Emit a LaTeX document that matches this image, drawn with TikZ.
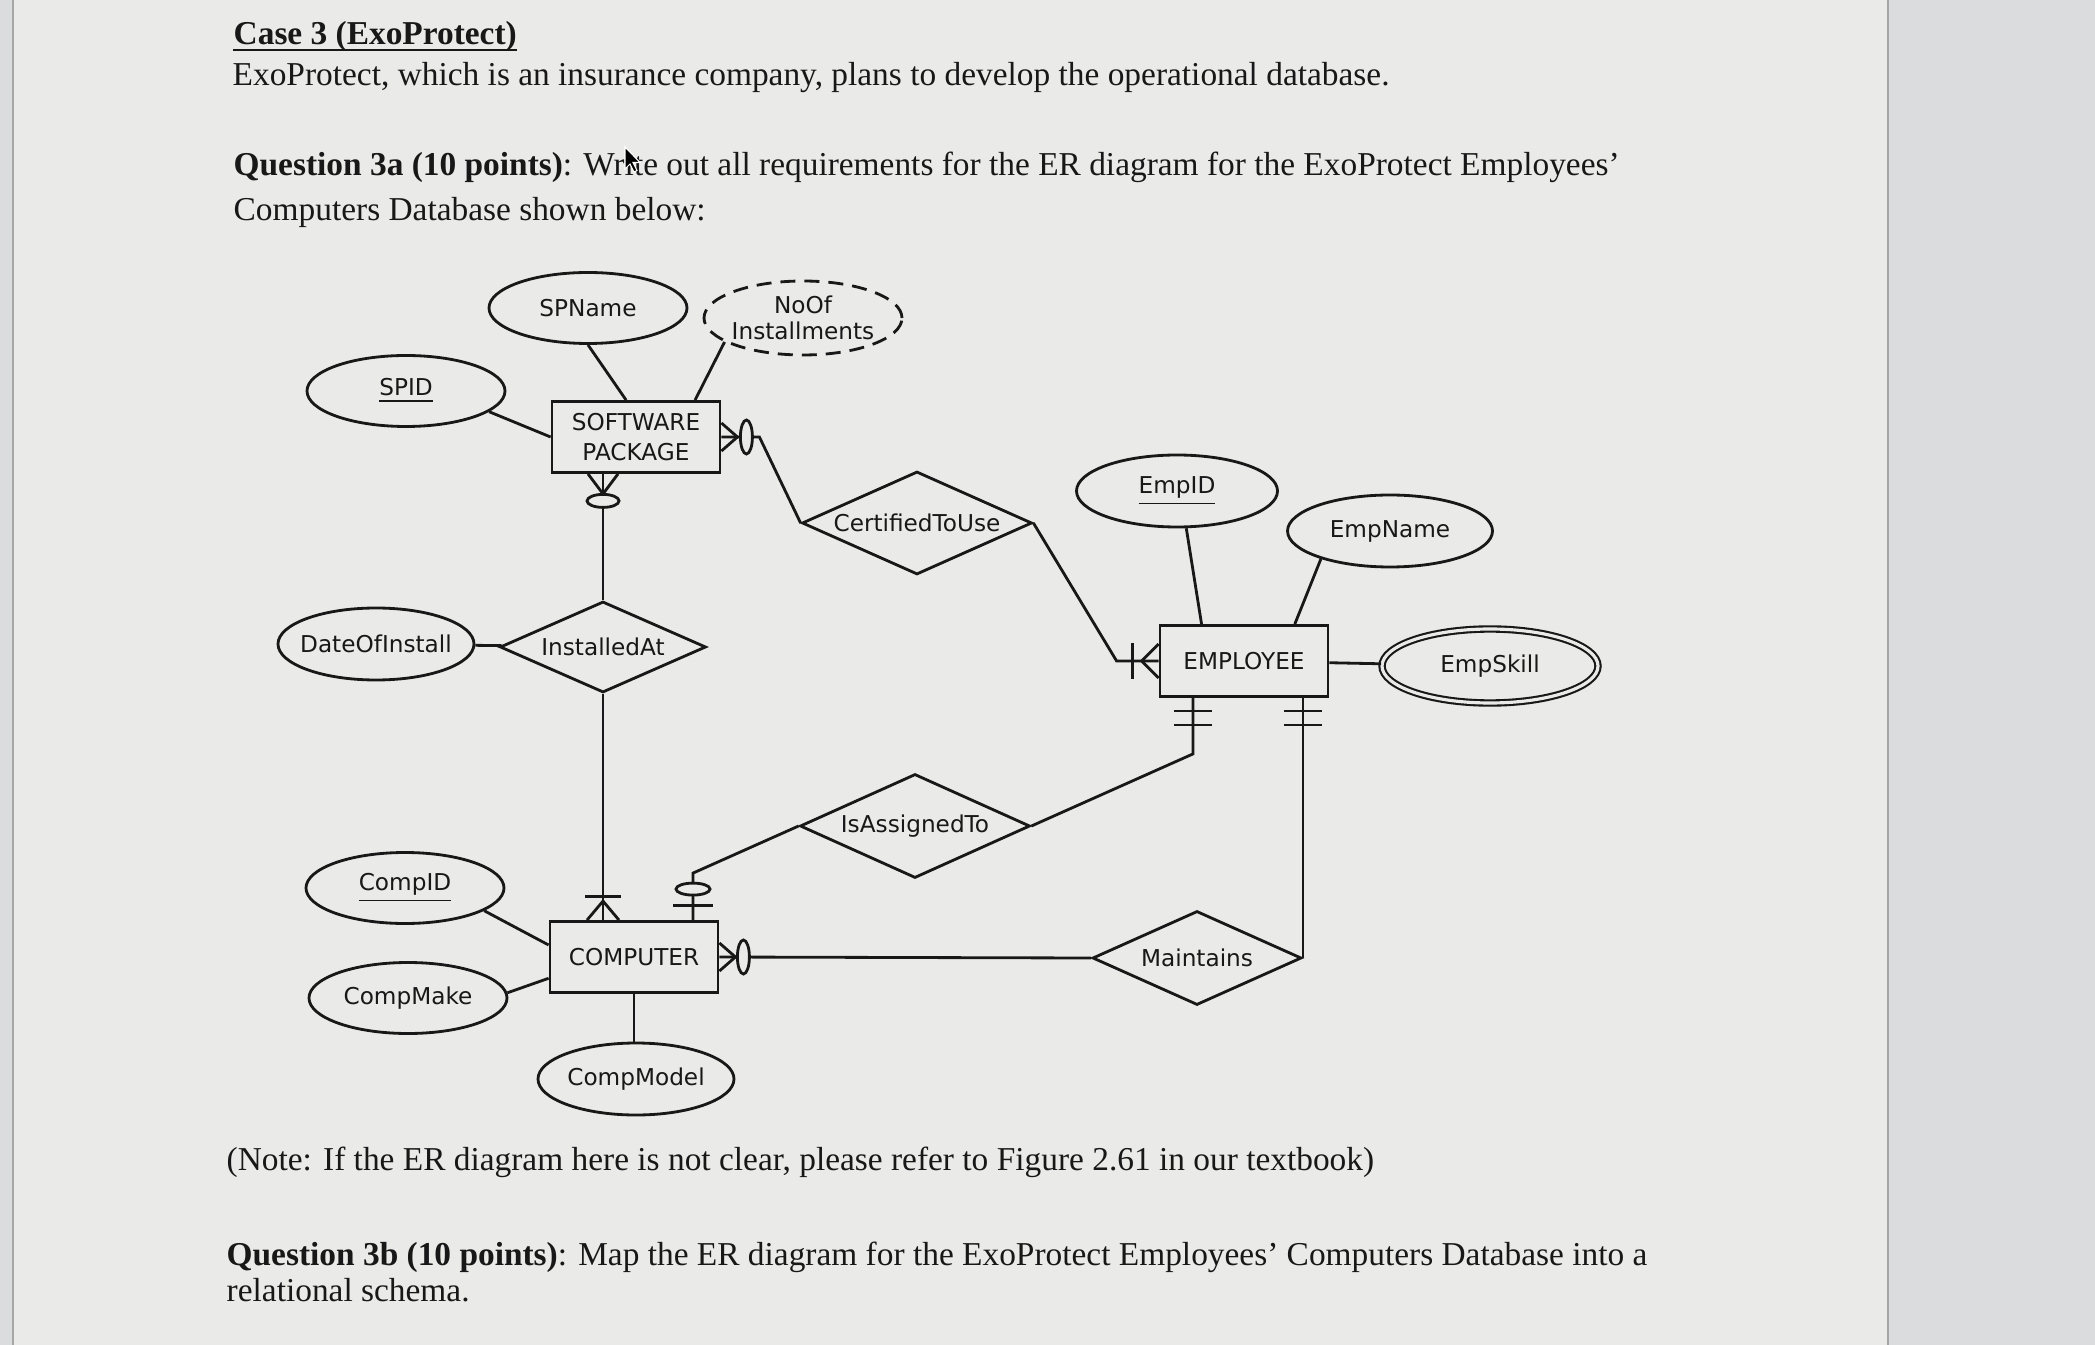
\documentclass[tikz,border=0pt]{standalone}
\usepackage{fontspec}
\setmainfont{Liberation Serif}
\newfontfamily\erfont{DejaVu Sans}
\usetikzlibrary{shapes.geometric,calc}

\definecolor{paper}{RGB}{234,234,232}
\definecolor{desk}{RGB}{219,220,222}
\definecolor{ink}{RGB}{24,24,24}

\begin{document}
\begin{tikzpicture}[
            x=0.1mm, y=-0.1mm,
            every node/.style={text=ink},
            txt/.style={anchor=base west, inner sep=0pt,
            font=\fontsize{9.5}{11}\selectfont},
            ent/.style={draw=ink, line width=0.8pt, align=center,
            font=\erfont\fontsize{6.6}{8.3}\selectfont,
            minimum width=16.8mm, minimum height=7.1mm, inner sep=0pt},
            att/.style={draw=ink, line width=0.8pt, ellipse, align=center,
            font=\erfont\fontsize{6.6}{7.2}\selectfont,
            minimum width=19.8mm, minimum height=7.1mm,
            inner xsep=-1.5mm, inner ysep=0pt},
            rel/.style={draw=ink, line width=0.8pt, diamond, aspect=2.25,
            font=\erfont\fontsize{6.6}{8}\selectfont,
            minimum width=23mm, minimum height=10.3mm, inner sep=0pt},
            ln/.style={draw=ink, line width=0.8pt},
            mk/.style={draw=ink, line width=0.8pt, fill=paper}
        ]
\useasboundingbox (0,0) rectangle (2095,1345);
% sheet of paper
            \fill[desk] (0,0) rectangle (2095,1345);
            \fill[paper] (13,0) rectangle (1888,1345);
            \draw[black!35, line width=0.4pt] (13,0) -- (13,1345);
            \draw[black!35, line width=0.4pt] (1888,0) -- (1888,1345);

% question text
            \node[txt] (title) at (233,45) {\bfseries Case 3 (ExoProtect)};
            \draw[ink, line width=0.6pt] ([yshift=-1.3pt]title.base west) -- ([yshift=-1.3pt]title.base east);
            \node[txt] (intro) at (232,86) {ExoProtect, which is an insurance company, plans to develop the operational database.};
            \node[txt] (qa1) at (233,176) {\textbf{Question 3a (10 points)}: Write out all requirements for the ER diagram for the ExoProtect Employees’};
            \node[txt] (qa2) at (233,221) {Computers Database shown below:};
            \node[txt] (note) at (226,1170) {(Note: If the ER diagram here is not clear, please refer to Figure 2.61 in our textbook)};
            \node[txt] (qb1) at (226,1265) {\textbf{Question 3b (10 points)}: Map the ER diagram for the ExoProtect Employees’ Computers Database into a};
            \node[txt] (qb2) at (226,1301) {relational schema.};

% entities
            \node[ent] (sp)   at (636,437)  {SOFTWARE\\PACKAGE};
            \node[ent] (emp)  at (1244,661) {EMPLOYEE};
            \node[ent] (comp) at (634,957)  {COMPUTER};

% attributes
            \node[att] (spname) at (588,308) {SPName};
            \node[att, minimum height=7.4mm, dash pattern=on 1.5mm off 0.9mm] (noof) at (803,318) {NoOf\\Installments};
            \node[att] (spid) at (406,391) {\underline{SPID}};
            \node[att, minimum width=20.1mm, minimum height=7.2mm] (empid) at (1177,491) {\underline{EmpID}};
            \node[att, minimum width=20.5mm, minimum height=7.2mm] (empname) at (1390,531) {EmpName};
            \node[att, minimum width=21.6mm, minimum height=7.4mm, double=paper, double distance=0.9pt, line width=0.6pt] (skill) at (1490,666) {EmpSkill};
            \node[att, minimum width=19.6mm, minimum height=7.2mm] (date) at (376,644) {DateOfInstall};
            \node[att] (compid) at (405,888) {\underline{CompID}};
            \node[att] (compmake) at (408,998) {CompMake};
            \node[att, minimum width=19.6mm, minimum height=7.2mm] (compmodel) at (636,1079) {CompModel};

% relationships
            \node[rel] (cert) at (917,523) {CertifiedToUse};
            \node[rel, minimum width=20.6mm, minimum height=9.1mm] (inst) at (603,647) {InstalledAt};
            \node[rel, minimum height=10.4mm] (isa) at (915,826) {IsAssignedTo};
            \node[rel, minimum width=20.9mm, minimum height=9.4mm] (maint) at (1197,958) {Maintains};

% attribute links
            \draw[ln] (spname.south) -- (sp.105);
            \draw[ln] (noof.197) -- (sp.32);
            \draw[ln] (spid.-14) -- (sp.west);
            \draw[ln] (empid.-76) -- (emp.139);
            \draw[ln] (empname.202) -- (emp.36);
            \draw[ln] (emp) -- (skill);
            \draw[ln] (date) -- (inst);
            \draw[ln] (compid.-16) -- (comp.172);
            \draw[ln] (compmake.3) -- (comp.194);
            \draw[ln] (comp.south) -- (comp.south |- compmodel.north);

% SOFTWARE PACKAGE -- CertifiedToUse -- EMPLOYEE
            \draw[ln] (sp.east) -- ++(38,0) -- (cert.west);
            \draw[ln] ($(sp.east)+(0,-14)$) -- ++(16,14) -- ++(-16,14);
            \draw[mk] ($(sp.east)+(25,0)$) ellipse [x radius=6, y radius=17];
            \draw[ln] (cert.east) -- ($(emp.west)+(-42,0)$) -- (emp.west);
            \draw[ln] ($(emp.west)+(-26,-18)$) -- ++(0,36);
            \draw[ln] ($(emp.west)+(0,-17)$) -- ++(-17,17) -- ++(17,17);

% SOFTWARE PACKAGE -- InstalledAt -- COMPUTER
            \coordinate (spb) at (sp.south -| inst.north);
            \draw[ln] (spb) -- (inst.north);
            \draw[ln] ($(spb)+(-15,0)$) -- ++(15,20) -- ++(15,-20);
            \draw[mk] ($(spb)+(0,27)$) ellipse [x radius=16, y radius=6.5];
            \coordinate (ct) at (comp.north -| inst.south);
            \draw[ln] (inst.south) -- (ct);
            \draw[ln] ($(ct)+(-18,-24)$) -- ++(36,0);
            \draw[ln] ($(ct)+(-16,0)$) -- ++(16,-19) -- ++(16,19);

% COMPUTER -- IsAssignedTo -- EMPLOYEE
            \coordinate (ca) at ($(comp.north)+(59,0)$);
            \draw[ln] (ca) -- ++(0,-47) -- (isa.west);
            \draw[mk] ($(ca)+(0,-31)$) ellipse [x radius=17, y radius=6];
            \draw[ln] ($(ca)+(-20,-15)$) -- ++(40,0);
            \coordinate (eb1) at ($(emp.south)+(-51,0)$);
            \draw[ln] (isa.east) -- ($(eb1)+(0,56)$) -- (eb1);
            \draw[ln] ($(eb1)+(-19,13)$) -- ++(38,0);
            \draw[ln] ($(eb1)+(-19,27)$) -- ++(38,0);

% COMPUTER -- Maintains -- EMPLOYEE
            \draw[ln] (comp.east) -- (maint.west);
            \draw[ln] ($(comp.east)+(0,-14)$) -- ++(16,14) -- ++(-16,14);
            \draw[mk] ($(comp.east)+(24,0)$) ellipse [x radius=6, y radius=17];
            \coordinate (eb2) at (maint.east |- emp.south);
            \draw[ln] (maint.east) -- (eb2);
            \draw[ln] ($(eb2)+(-19,13)$) -- ++(38,0);
            \draw[ln] ($(eb2)+(-19,27)$) -- ++(38,0);

% mouse pointer over the question
            \filldraw[fill=black, draw=white, line width=0.3pt] (625,147) -- ++(0,22) -- ++(5,-5) -- ++(4,8) -- ++(3,-1.5) -- ++(-4,-8) -- ++(7,0) -- cycle;
        \end{tikzpicture}
\end{document}
